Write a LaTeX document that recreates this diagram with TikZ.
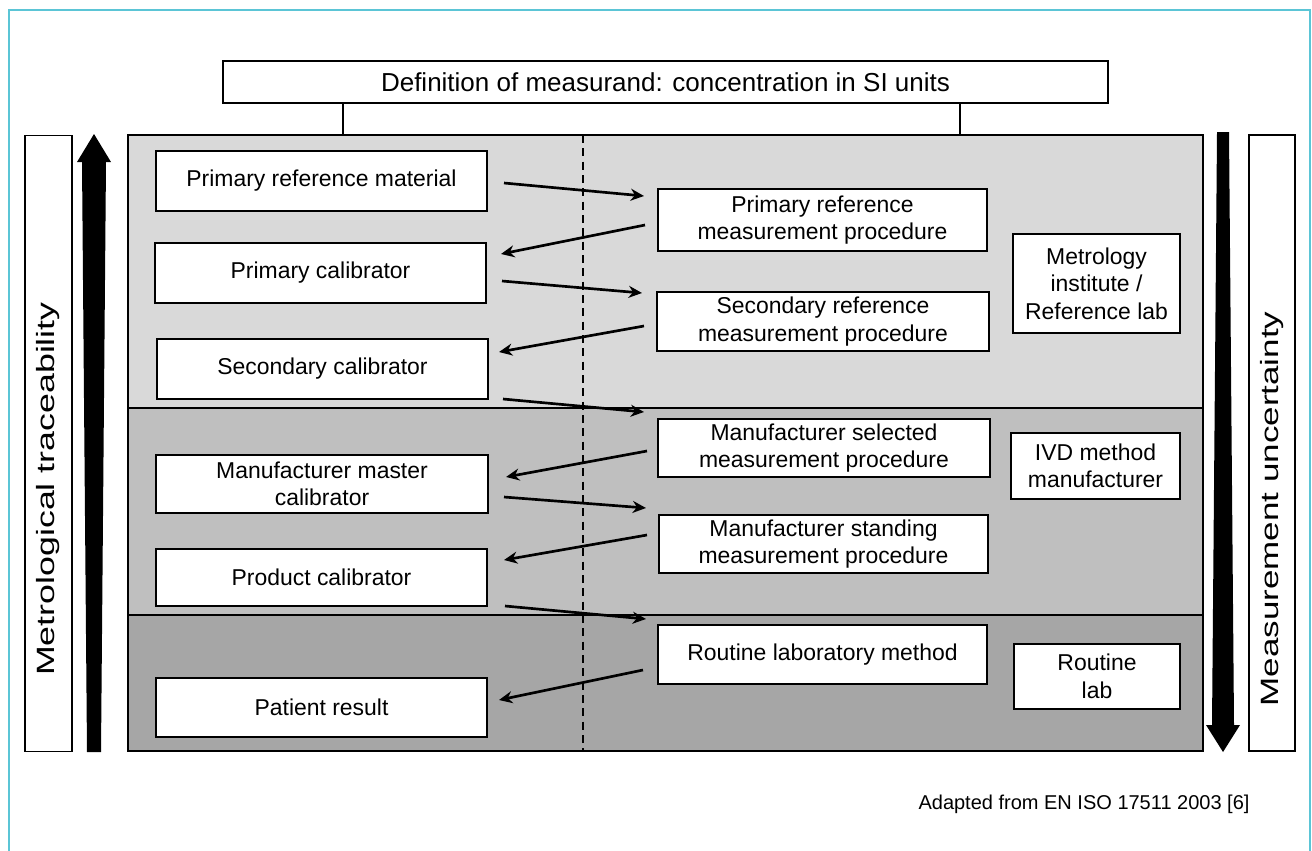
\documentclass[tikz,border=0pt]{standalone}
\usepackage{fontspec}
\setmainfont{Liberation Sans}
\usetikzlibrary{arrows.meta,calc}
\definecolor{framecol}{HTML}{5BC5D6}
\definecolor{bandA}{HTML}{D9D9D9}
\definecolor{bandB}{HTML}{BFBFBF}
\definecolor{bandC}{HTML}{A6A6A6}
\begin{document}
\begin{tikzpicture}[x=0.75pt,y=-0.75pt,
  box/.style={draw=black, line width=1.5pt, fill=white, align=center, inner sep=0pt,
    font=\fontsize{17.2pt}{20.6pt}\selectfont},
  flow/.style={line width=2pt, -{Stealth[length=10pt,width=9pt]}},
  bigarrow/.style={fill=black},
  sidebox/.style={draw=black, line width=1.2pt, fill=white, inner sep=0pt,
    minimum width=35pt, minimum height=462pt},
  sidetext/.style={rotate=90, inner sep=0pt, font=\fontsize{18.75pt}{22pt}\selectfont},
]
\useasboundingbox (0,0) rectangle (1312,850);

% outer frame
\draw[framecol, line width=1.5pt] (8.5,852) -- (8.5,10) -- (1310,10) -- (1310,852);

% bands
\fill[bandA] (128,135) rectangle (1203,408);
\fill[bandB] (128,408) rectangle (1203,615);
\fill[bandC] (128,615) rectangle (1203,751);
\draw[line width=1.5pt] (128,408) -- (1203,408);
\draw[line width=1.5pt] (128,615) -- (1203,615);
\draw[line width=1.5pt, dash pattern=on 6pt off 4pt] (583,135) -- (583,751);
\node[draw=black, line width=1.5pt, inner sep=0pt, minimum width=806.25pt, minimum height=462pt] (panel) at (665.5,443) {};

% top box
\node[box, font=\fontsize{19.5pt}{23pt}\selectfont, minimum width=663.75pt, minimum height=31.5pt] (top) at (665.5,82) {Definition of measurand: concentration in SI units};
\draw[line width=1.5pt] (top.south -| 343,0) -- (panel.north -| 343,0);
\draw[line width=1.5pt] (top.south -| 960,0) -- (panel.north -| 960,0);

% left column
\node[box, minimum width=248.25pt, minimum height=45pt] (prm) at (321.5,181) {Primary reference material};
\node[box, minimum width=248.25pt, minimum height=45pt] (pc) at (320.5,273) {Primary calibrator};
\node[box, minimum width=248.25pt, minimum height=45pt] (sc) at (322.5,369) {Secondary calibrator};
\node[box, minimum width=249pt, minimum height=43.5pt] (mmc) at (322,484) {Manufacturer master\\calibrator};
\node[box, minimum width=248.25pt, minimum height=42.75pt] (prc) at (321.5,577.5) {Product calibrator};
\node[box, minimum width=248.25pt, minimum height=44.25pt] (pr) at (321.5,707.5) {Patient result};

% right column
\node[box, minimum width=246.75pt, minimum height=46.5pt] (prmp) at (822.5,220) {Primary reference\\measurement procedure};
\node[box, minimum width=249pt, minimum height=44.25pt] (srmp) at (823,321.5) {Secondary reference\\measurement procedure};
\node[box, minimum width=249pt, minimum height=43.5pt] (msmp) at (824,448) {Manufacturer selected\\measurement procedure};
\node[box, minimum width=246.75pt, minimum height=43.5pt] (mstp) at (823.5,544) {Manufacturer standing\\measurement procedure};
\node[box, minimum width=246.75pt, minimum height=44.25pt] (rlm) at (822.5,654.5) {Routine laboratory method};

% institution column
\node[box, minimum width=125.25pt, minimum height=74.25pt] (met) at (1096.5,283.5) {Metrology\\institute /\\Reference lab};
\node[box, minimum width=126.75pt, minimum height=49.5pt] (ivd) at (1095.5,466) {IVD method\\manufacturer};
\node[box, minimum width=124.5pt, minimum height=48.75pt] (rl) at (1097,676.5) {Routine\\lab};

% flow arrows
\draw[flow] ($(prm.east)+(16,2)$) -- ($(prmp.west)+(-13,-24)$);
\draw[flow] ($(prmp.west)+(-12,5)$) -- ($(pc.east)+(14,-19)$);
\draw[flow] ($(pc.east)+(15,8)$) -- ($(srmp.west)+(-14,-28.5)$);
\draw[flow] ($(srmp.west)+(-12,4.5)$) -- ($(sc.east)+(10,-17)$);
\draw[flow] ($(sc.east)+(14,30)$) -- ($(msmp.west)+(-13,-36)$);
\draw[flow] ($(msmp.west)+(-10,3)$) -- ($(mmc.east)+(17,-7)$);
\draw[flow] ($(mmc.east)+(15,13)$) -- ($(mstp.west)+(-12,-36)$);
\draw[flow] ($(mstp.west)+(-11,-9)$) -- ($(prc.east)+(16,-17.5)$);
\draw[flow] ($(prc.east)+(17,28.5)$) -- ($(rlm.west)+(-11,-35.5)$);
\draw[flow] ($(rlm.west)+(-14,15.5)$) -- ($(pr.east)+(11,-7.5)$);

% side label boxes
\node[sidebox] (lbox) at (48.5,443.5) {};
\node[sidetext] (ltext) at (48.5,489) {\scalebox{1.43}[1]{Metrological traceability}};
\node[sidebox, minimum width=34.5pt] (rbox) at (1272,443) {};
\node[sidetext] (rtext) at (1272,509) {\scalebox{1.40}[1]{Measurement uncertainty}};

% big arrows
\fill[bigarrow] (87,752) -- (82,162) -- (77,162) -- (94,134) -- (111,162) -- (106,162) -- (101,752) -- cycle;
\fill[bigarrow] (1217,132) -- (1212,725) -- (1206,725) -- (1223,752) -- (1240,725) -- (1234,725) -- (1229,132) -- cycle;

% footer
\node[inner sep=0pt, font=\fontsize{15pt}{18pt}\selectfont] (src) at (1084,804) {Adapted from EN ISO 17511 2003 [6]};
\end{tikzpicture}
\end{document}
